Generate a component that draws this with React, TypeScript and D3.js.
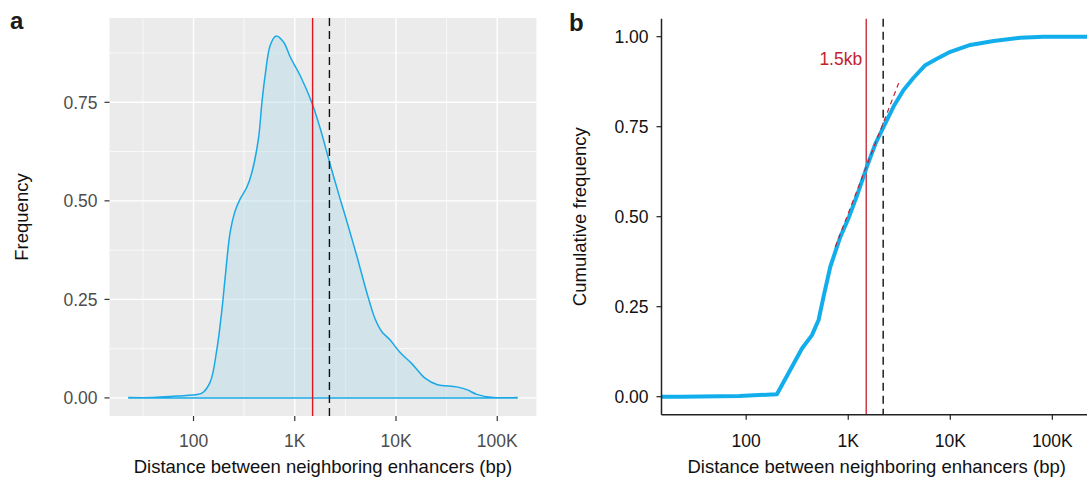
import React from 'react';
import * as d3 from 'd3';

// density curve (panel a)
const densityBp = [23, 40, 63, 89, 121, 146, 170, 191, 206, 230, 258, 289, 337, 377, 439, 473, 511, 573, 655, 774, 902, 1130, 1476, 1782, 2234, 2805, 3148, 4102, 5152, 6223, 7244, 8750, 10990, 14320, 19360, 25290, 39810, 50000, 62810, 91410, 156700];
const densityFreq = [0.001, 0.001, 0.004, 0.007, 0.012, 0.04, 0.123, 0.225, 0.309, 0.42, 0.475, 0.505, 0.535, 0.572, 0.66, 0.748, 0.82, 0.895, 0.918, 0.903, 0.865, 0.818, 0.749, 0.684, 0.593, 0.505, 0.462, 0.36, 0.267, 0.2, 0.168, 0.147, 0.115, 0.087, 0.05, 0.034, 0.028, 0.021, 0.009, 0.001, 0.001];

// cumulative curve (panel b)
const cdfBp = [23, 86, 200, 270, 352, 441, 512, 573, 667, 836, 1007, 1216, 1524, 1841, 2307, 2780, 3483, 4365, 5689, 7396, 10000, 15700, 26600, 48530, 82220, 156700];
const cdfFreq = [0, 0.002, 0.007, 0.074, 0.134, 0.171, 0.213, 0.278, 0.361, 0.444, 0.496, 0.558, 0.639, 0.702, 0.759, 0.806, 0.852, 0.886, 0.921, 0.939, 0.958, 0.977, 0.988, 0.997, 1, 1];

// dashed tangent through the 1.5kb point
const tangentBp = [746, 3119];
const tangentFreq = [0.416, 0.871];

const cutoffBp = 1500;
const dashedBp = 2200;
const cutoffLabel = '1.5kb';

const xTicks = [100, 1000, 10000, 100000];
const xTickLabels = ['100', '1K', '10K', '100K'];
const xMinor = [31.62, 316.2, 3162, 31623];
const freqTicks = [0, 0.25, 0.5, 0.75];
const freqMinor = [0.125, 0.375, 0.625, 0.875];
const cumTicks = [0, 0.25, 0.5, 0.75, 1];

const xTitle = 'Distance between neighboring enhancers (bp)';

const FONT = '"Liberation Sans", Arial, Helvetica, sans-serif';

// ggplot style 5% expansion in log space
const logExt = [Math.log10(densityBp[0]), Math.log10(densityBp[densityBp.length - 1])];
const pad = (logExt[1] - logExt[0]) * 0.05;
const xDomain = [10 ** (logExt[0] - pad), 10 ** (logExt[1] + pad)];

const App = () => {
  // panel a
  const aL = 109.5, aR = 536.4, aT = 18, aB = 416;
  const xA = d3.scaleLog().domain(xDomain).range([aL, aR]);
  const dMax = d3.max(densityFreq);
  const yA = d3.scaleLinear().domain([-dMax * 0.05, dMax * 1.05]).range([aB, aT]);

  const densPts = densityBp.map((d, i) => [d, densityFreq[i]]);
  const area = d3.area()
    .x(d => xA(d[0]))
    .y0(yA(0))
    .y1(d => yA(d[1]))
    .curve(d3.curveCatmullRom.alpha(0.5));

  // panel b
  const bL = 661.5, bR = 1091.8, bT = 18.7, bB = 414.7;
  const xB = d3.scaleLog().domain(xDomain).range([bL, bR]);
  const yB = d3.scaleLinear().domain([-0.05, 1.05]).range([bB, bT]);

  const cdfPts = [[xDomain[0], 0], ...cdfBp.map((d, i) => [d, cdfFreq[i]]), [xDomain[1], 1]];
  const cdfLine = d3.line().x(d => xB(d[0])).y(d => yB(d[1]));
  const tanLine = d3.line().x(d => xB(d[0])).y(d => yB(d[1]));

  return (
    <div style={{ position: 'fixed', left: 0, top: 0 }}>
      <svg width={1087} height={480} style={{ display: 'block', fontFamily: FONT }}>
        <rect width={1087} height={480} fill="#fff" />

        {/* ---- panel a ---- */}
        <text x={10} y={29} fontSize={24} fontWeight="bold" fill="#1a1a1a">a</text>
        <rect x={aL} y={aT} width={aR - aL} height={aB - aT} fill="#EBEBEB" />
        {xMinor.map(v => (
          <line key={'xm' + v} x1={xA(v)} x2={xA(v)} y1={aT} y2={aB} stroke="#fff" strokeWidth={0.7} />
        ))}
        {freqMinor.map(v => (
          <line key={'ym' + v} x1={aL} x2={aR} y1={yA(v)} y2={yA(v)} stroke="#fff" strokeWidth={0.7} />
        ))}
        {xTicks.map(v => (
          <line key={'xg' + v} x1={xA(v)} x2={xA(v)} y1={aT} y2={aB} stroke="#fff" strokeWidth={1.4} />
        ))}
        {freqTicks.map(v => (
          <line key={'yg' + v} x1={aL} x2={aR} y1={yA(v)} y2={yA(v)} stroke="#fff" strokeWidth={1.4} />
        ))}
        <path d={area(densPts)} fill="#ADD8E6" fillOpacity={0.4} stroke="#1AA9E6" strokeWidth={1.5} />
        <line x1={xA(cutoffBp)} x2={xA(cutoffBp)} y1={aT} y2={aB} stroke="#E0141E" strokeWidth={1.4} />
        <line x1={xA(dashedBp)} x2={xA(dashedBp)} y1={aT} y2={aB} stroke="#111" strokeWidth={1.4} strokeDasharray="8,5" />

        {freqTicks.map(v => (
          <g key={'yt' + v}>
            <line x1={aL - 5} x2={aL} y1={yA(v)} y2={yA(v)} stroke="#333" strokeWidth={1.2} />
            <text x={aL - 12} y={yA(v)} dy="0.36em" textAnchor="end" fontSize={17.5} fill="#4D4D4D">{d3.format('.2f')(v)}</text>
          </g>
        ))}
        {xTicks.map((v, i) => (
          <g key={'xt' + v}>
            <line x1={xA(v)} x2={xA(v)} y1={aB} y2={aB + 5} stroke="#333" strokeWidth={1.2} />
            <text x={xA(v)} y={447} textAnchor="middle" fontSize={17.5} fill="#4D4D4D">{xTickLabels[i]}</text>
          </g>
        ))}
        <text x={(aL + aR) / 2} y={473} textAnchor="middle" fontSize={18.5} fill="#111">{xTitle}</text>
        <text transform={`translate(28,${(aT + aB) / 2}) rotate(-90)`} textAnchor="middle" fontSize={18.5} fill="#111">Frequency</text>

        {/* ---- panel b ---- */}
        <text x={569} y={31} fontSize={24} fontWeight="bold" fill="#1a1a1a">b</text>
        <line x1={xB(cutoffBp)} x2={xB(cutoffBp)} y1={bT} y2={bB} stroke="#C41E2E" strokeWidth={1.3} />
        <line x1={xB(dashedBp)} x2={xB(dashedBp)} y1={bT} y2={bB} stroke="#111" strokeWidth={1.4} strokeDasharray="8,5" />
        <path d={cdfLine(cdfPts)} fill="none" stroke="#12AEEB" strokeWidth={4} strokeLinejoin="round" />
        <path d={tanLine(tangentBp.map((d, i) => [d, tangentFreq[i]]))} fill="none" stroke="#C41E2E" strokeWidth={1.2} strokeDasharray="5,4" />
        <text x={xB(cutoffBp) - 4} y={65} textAnchor="end" fontSize={17.5} fill="#C41E2E">{cutoffLabel}</text>

        <line x1={bL} x2={bL} y1={bT} y2={bB} stroke="#222" strokeWidth={1.5} />
        <line x1={bL} x2={1087} y1={bB} y2={bB} stroke="#222" strokeWidth={1.5} />
        {cumTicks.map(v => (
          <g key={'bt' + v}>
            <line x1={bL - 5} x2={bL} y1={yB(v)} y2={yB(v)} stroke="#222" strokeWidth={1.2} />
            <text x={bL - 13} y={yB(v)} dy="0.36em" textAnchor="end" fontSize={17.5} fill="#111">{d3.format('.2f')(v)}</text>
          </g>
        ))}
        {xTicks.map((v, i) => (
          <g key={'bx' + v}>
            <line x1={xB(v)} x2={xB(v)} y1={bB} y2={bB + 5} stroke="#222" strokeWidth={1.2} />
            <text x={xB(v)} y={447} textAnchor="middle" fontSize={17.5} fill="#111">{xTickLabels[i]}</text>
          </g>
        ))}
        <text x={(bL + bR) / 2} y={473} textAnchor="middle" fontSize={18.5} fill="#111">{xTitle}</text>
        <text transform={`translate(586,${(bT + bB) / 2}) rotate(-90)`} textAnchor="middle" fontSize={18.5} fill="#111">Cumulative frequency</text>
      </svg>
    </div>
  );
};

export default App;
